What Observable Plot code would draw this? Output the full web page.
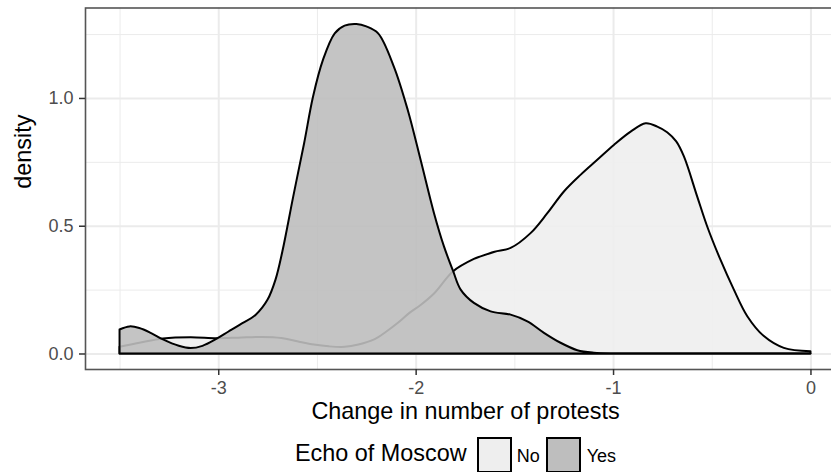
<!DOCTYPE html>
<html>
<head>
<meta charset="utf-8">
<script src="https://cdn.jsdelivr.net/npm/d3@7"></script>
<script src="https://cdn.jsdelivr.net/npm/@observablehq/plot@0.6"></script>
<style>
  html, body { margin: 0; padding: 0; background: #fff; width: 831px; height: 472px; overflow: hidden; }
  #chart { width: 831px; height: 430px; overflow: hidden; }
  #chart svg { max-width: none !important; }
  #chart svg g[aria-label="x-axis tick label"], #chart svg g[aria-label="y-axis tick label"] { fill: #4d4d4d; }
  #legend { position: relative; width: 831px; height: 42px; font-family: 'Liberation Sans', Arial, sans-serif; }
  #legend .t { position: absolute; line-height: 1; white-space: nowrap; color: #000; }
  #legend .key { position: absolute; box-sizing: border-box; border: 2px solid #000; width: 35px; height: 36px; top: 7px; }
</style>
</head>
<body>
<div id="chart"></div>
<div id="legend"></div>
<script>
// ---- data ----
const changeYes = [-3.50, -3.45, -3.40, -3.34, -3.28, -3.20, -3.14, -3.08, -3.01, -2.95, -2.89, -2.81, -2.75, -2.71, -2.675, -2.62, -2.565, -2.52, -2.47, -2.41, -2.36, -2.30, -2.25, -2.19, -2.11, -2.04, -1.975, -1.907, -1.857, -1.81, -1.772, -1.705, -1.62, -1.519, -1.434, -1.35, -1.266, -1.181, -1.097, -1.0, -0.90, -0.50, 0];
const densityYes = [0.094, 0.106, 0.100, 0.080, 0.055, 0.030, 0.021, 0.030, 0.057, 0.085, 0.113, 0.152, 0.211, 0.289, 0.400, 0.615, 0.823, 1.005, 1.148, 1.253, 1.283, 1.289, 1.280, 1.253, 1.122, 0.953, 0.758, 0.549, 0.420, 0.322, 0.250, 0.198, 0.165, 0.152, 0.126, 0.081, 0.042, 0.013, 0.003, 0.0, 0.0, 0.0, 0.0];

const changeNo = [-3.50, -3.40, -3.28, -3.14, -3.01, -2.90, -2.78, -2.68, -2.60, -2.515, -2.44, -2.36, -2.29, -2.21, -2.15, -2.09, -2.03, -1.975, -1.907, -1.81, -1.705, -1.671, -1.60, -1.519, -1.418, -1.333, -1.249, -1.165, -1.080, -0.996, -0.911, -0.835, -0.776, -0.726, -0.68, -0.641, -0.574, -0.523, -0.456, -0.388, -0.32, -0.236, -0.135, 0];
const densityNo = [0.026, 0.042, 0.059, 0.064, 0.060, 0.062, 0.065, 0.061, 0.048, 0.035, 0.028, 0.026, 0.035, 0.055, 0.085, 0.120, 0.160, 0.190, 0.235, 0.322, 0.370, 0.380, 0.398, 0.413, 0.471, 0.549, 0.634, 0.699, 0.758, 0.816, 0.868, 0.901, 0.888, 0.866, 0.830, 0.771, 0.615, 0.497, 0.367, 0.250, 0.146, 0.068, 0.022, 0.009];

const groups = ["No", "Yes"];
const groupFills = ["#eeeeee", "#bebebe"];
const xMajor = [-3, -2, -1, 0];
const xMinor = [-3.5, -2.5, -1.5, -0.5];
const yMajor = [0, 0.5, 1.0];
const yMinor = [0.25, 0.75, 1.25];
const xTitle = "Change in number of protests";
const yTitle = "density";
const legendTitle = "Echo of Moscow";

// ---- build tables ----
const noRows = changeNo.map((x, i) => ({x, y: densityNo[i], group: groups[0]}));
const yesRows = changeYes.map((x, i) => ({x, y: densityYes[i], group: groups[1]}));

const font = "'Liberation Sans', Arial, sans-serif";
const gridColor = "#ebebeb";

const chart = Plot.plot({
  width: 846,
  height: 430,
  marginLeft: 85,
  marginRight: 1,
  marginTop: 7.5,
  marginBottom: 61,
  x: {domain: [-3.675, 0.175]},
  y: {domain: [-0.0607, 1.354]},
  style: {fontFamily: font, fontSize: "18px", background: "white", maxWidth: "none"},
  marks: [
    Plot.gridX(xMinor, {stroke: gridColor, strokeOpacity: 1, strokeWidth: 1}),
    Plot.gridY(yMinor, {stroke: gridColor, strokeOpacity: 1, strokeWidth: 1}),
    Plot.gridX(xMajor, {stroke: gridColor, strokeOpacity: 1, strokeWidth: 2}),
    Plot.gridY(yMajor, {stroke: gridColor, strokeOpacity: 1, strokeWidth: 2}),
    Plot.areaY(noRows, {x: "x", y: "y", fill: groupFills[0], fillOpacity: 0.9, stroke: "black", strokeWidth: 2, curve: "catmull-rom"}),
    Plot.areaY(yesRows, {x: "x", y: "y", fill: groupFills[1], fillOpacity: 0.9, stroke: "black", strokeWidth: 2, curve: "catmull-rom"}),
    Plot.frame({stroke: "#555", strokeWidth: 1.6}),
    Plot.axisX(xMajor, {tickSize: 6, tickPadding: 6, tickFormat: d => String(d), label: null, stroke: "#333", strokeWidth: 1.5, color: "#333"}),
    Plot.axisY(yMajor, {tickSize: 6, tickPadding: 6, tickFormat: d3.format(".1f"), label: null, stroke: "#333", strokeWidth: 1.5, color: "#333"}),
    Plot.text([xTitle], {text: d => d, frameAnchor: "bottom", dy: 49, fontSize: 23.4, fill: "black"}),
    Plot.text([yTitle], {text: d => d, frameAnchor: "left", rotate: -90, dx: -62.5, fontSize: 23.4, fill: "black"})
  ]
});
document.getElementById("chart").appendChild(chart);

// ---- legend ----
const legend = document.getElementById("legend");
function addText(txt, left, top, size) {
  const s = document.createElement("span");
  s.className = "t";
  s.textContent = txt;
  s.style.left = left + "px";
  s.style.top = top + "px";
  s.style.fontSize = size + "px";
  legend.appendChild(s);
}
function addKey(left, fill) {
  const k = document.createElement("div");
  k.className = "key";
  k.style.left = left + "px";
  k.style.background = fill;
  legend.appendChild(k);
}
addText(legendTitle, 295, 12.3, 23.4);
addKey(476.5, groupFills[0]);
addText(groups[0], 516.7, 16.5, 18);
addKey(546, groupFills[1]);
addText(groups[1], 586.7, 16.5, 18);
</script>
</body>
</html>
